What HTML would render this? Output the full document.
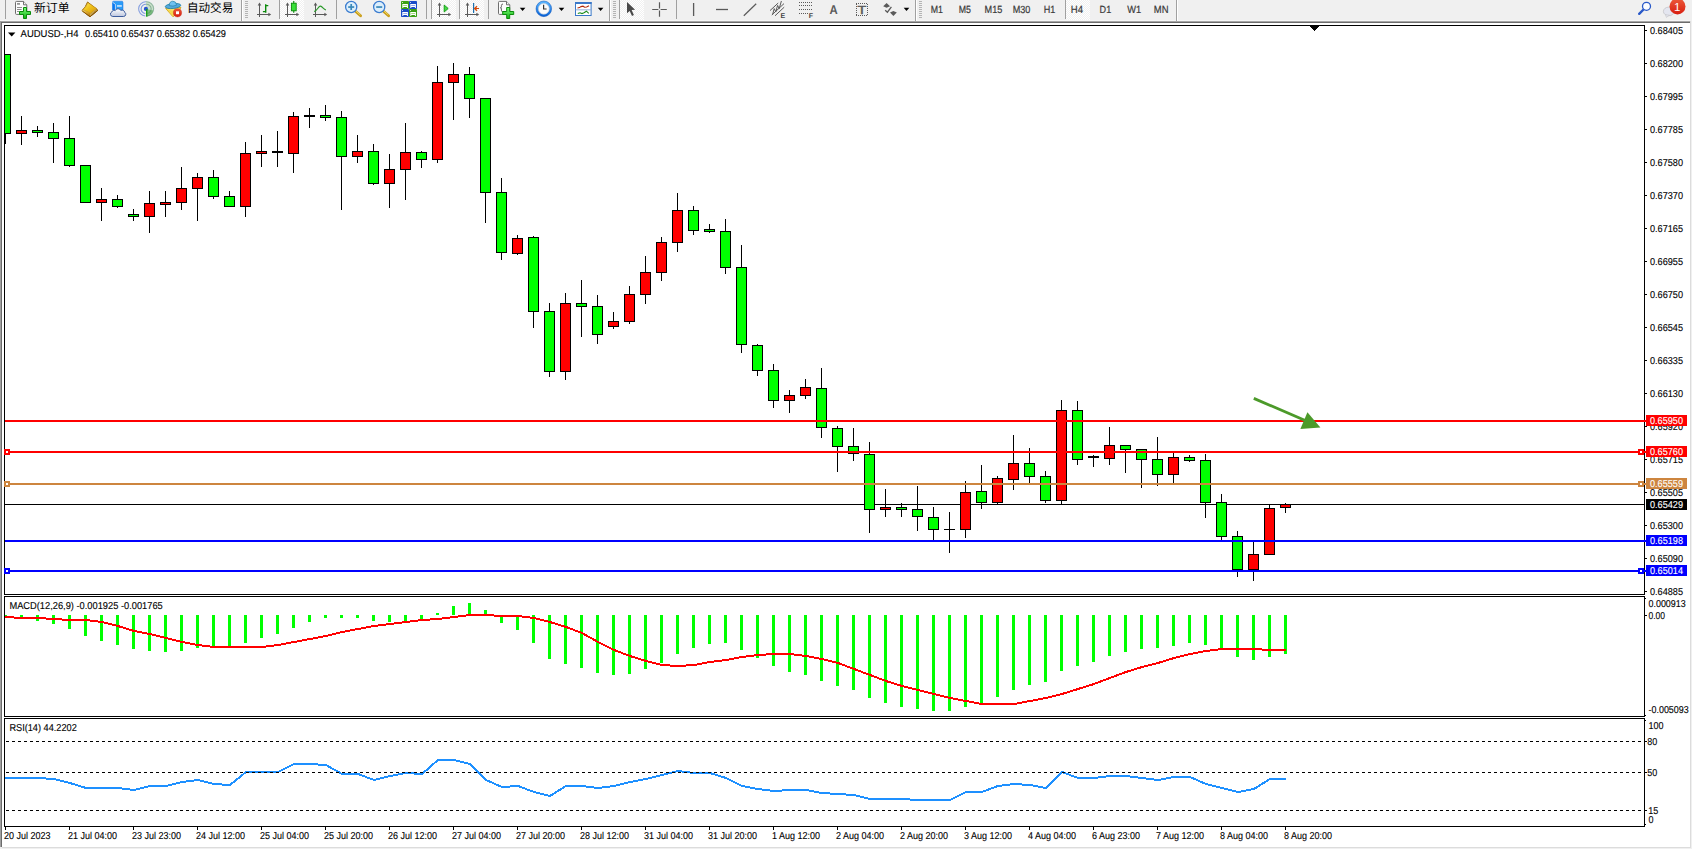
<!DOCTYPE html>
<html><head><meta charset="utf-8"><title>AUDUSD-,H4</title>
<style>html,body{margin:0;padding:0;background:#fff;overflow:hidden}svg{display:block}</style>
</head><body>
<svg width="1692" height="849" viewBox="0 0 1692 849" font-family='"Liberation Sans", sans-serif' shape-rendering="crispEdges" text-rendering="geometricPrecision">
<rect x="0" y="0" width="1692" height="849" fill="#ffffff"/>
<rect x="0" y="0" width="1692" height="21" fill="#f0f0f0"/>
<rect x="0" y="20" width="1690" height="1" fill="#f6f6f6"/>
<rect x="0" y="21" width="1690" height="1" fill="#a6a6a6"/>
<rect x="0" y="22" width="1690" height="1" fill="#6c6c6c"/>
<rect x="0" y="21" width="1" height="826" fill="#a0a0a0"/>
<rect x="1" y="22" width="1" height="825" fill="#6c6c6c"/>
<rect x="1690" y="0" width="2" height="849" fill="#f0f0f0"/>
<rect x="1690" y="21" width="1" height="827" fill="#dcdcdc"/>
<rect x="0" y="847" width="1692" height="2" fill="#f0f0f0"/>
<rect x="2" y="847" width="1689" height="1" fill="#dcdcdc"/>
<clipPath id="cm"><rect x="5" y="26" width="1639" height="568"/></clipPath>
<g clip-path="url(#cm)">
<rect x="5" y="504" width="1639" height="1" fill="#000"/>
<rect x="5" y="54" width="1" height="90" fill="#000"/>
<rect x="0" y="54" width="11" height="80" fill="#000"/>
<rect x="1" y="55" width="9" height="78" fill="#00ff00"/>
<rect x="21" y="116" width="1" height="29" fill="#000"/>
<rect x="16" y="130" width="11" height="4" fill="#000"/>
<rect x="17" y="131" width="9" height="2" fill="#ff0000"/>
<rect x="37" y="126" width="1" height="11" fill="#000"/>
<rect x="32" y="130" width="11" height="3" fill="#000"/>
<rect x="33" y="131" width="9" height="1" fill="#00ff00"/>
<rect x="53" y="123" width="1" height="40" fill="#000"/>
<rect x="48" y="132" width="11" height="7" fill="#000"/>
<rect x="49" y="133" width="9" height="5" fill="#00ff00"/>
<rect x="69" y="116" width="1" height="51" fill="#000"/>
<rect x="64" y="138" width="11" height="28" fill="#000"/>
<rect x="65" y="139" width="9" height="26" fill="#00ff00"/>
<rect x="85" y="165" width="1" height="38" fill="#000"/>
<rect x="80" y="165" width="11" height="38" fill="#000"/>
<rect x="81" y="166" width="9" height="36" fill="#00ff00"/>
<rect x="101" y="188" width="1" height="33" fill="#000"/>
<rect x="96" y="199" width="11" height="4" fill="#000"/>
<rect x="97" y="200" width="9" height="2" fill="#ff0000"/>
<rect x="117" y="195" width="1" height="13" fill="#000"/>
<rect x="112" y="199" width="11" height="8" fill="#000"/>
<rect x="113" y="200" width="9" height="6" fill="#00ff00"/>
<rect x="133" y="209" width="1" height="12" fill="#000"/>
<rect x="128" y="214" width="11" height="3" fill="#000"/>
<rect x="129" y="215" width="9" height="1" fill="#00ff00"/>
<rect x="149" y="191" width="1" height="42" fill="#000"/>
<rect x="144" y="203" width="11" height="14" fill="#000"/>
<rect x="145" y="204" width="9" height="12" fill="#ff0000"/>
<rect x="165" y="191" width="1" height="26" fill="#000"/>
<rect x="160" y="202" width="11" height="3" fill="#000"/>
<rect x="161" y="203" width="9" height="1" fill="#ff0000"/>
<rect x="181" y="167" width="1" height="43" fill="#000"/>
<rect x="176" y="188" width="11" height="15" fill="#000"/>
<rect x="177" y="189" width="9" height="13" fill="#ff0000"/>
<rect x="197" y="173" width="1" height="48" fill="#000"/>
<rect x="192" y="177" width="11" height="12" fill="#000"/>
<rect x="193" y="178" width="9" height="10" fill="#ff0000"/>
<rect x="213" y="170" width="1" height="29" fill="#000"/>
<rect x="208" y="177" width="11" height="20" fill="#000"/>
<rect x="209" y="178" width="9" height="18" fill="#00ff00"/>
<rect x="229" y="191" width="1" height="16" fill="#000"/>
<rect x="224" y="196" width="11" height="11" fill="#000"/>
<rect x="225" y="197" width="9" height="9" fill="#00ff00"/>
<rect x="245" y="142" width="1" height="75" fill="#000"/>
<rect x="240" y="153" width="11" height="54" fill="#000"/>
<rect x="241" y="154" width="9" height="52" fill="#ff0000"/>
<rect x="261" y="135" width="1" height="32" fill="#000"/>
<rect x="256" y="151" width="11" height="3" fill="#000"/>
<rect x="257" y="152" width="9" height="1" fill="#ff0000"/>
<rect x="277" y="131" width="1" height="36" fill="#000"/>
<rect x="272" y="151" width="11" height="2" fill="#000"/>
<rect x="293" y="112" width="1" height="61" fill="#000"/>
<rect x="288" y="116" width="11" height="38" fill="#000"/>
<rect x="289" y="117" width="9" height="36" fill="#ff0000"/>
<rect x="309" y="108" width="1" height="20" fill="#000"/>
<rect x="304" y="115" width="11" height="2" fill="#000"/>
<rect x="325" y="105" width="1" height="16" fill="#000"/>
<rect x="320" y="115" width="11" height="3" fill="#000"/>
<rect x="321" y="116" width="9" height="1" fill="#00ff00"/>
<rect x="341" y="111" width="1" height="99" fill="#000"/>
<rect x="336" y="117" width="11" height="40" fill="#000"/>
<rect x="337" y="118" width="9" height="38" fill="#00ff00"/>
<rect x="357" y="135" width="1" height="28" fill="#000"/>
<rect x="352" y="151" width="11" height="6" fill="#000"/>
<rect x="353" y="152" width="9" height="4" fill="#ff0000"/>
<rect x="373" y="144" width="1" height="41" fill="#000"/>
<rect x="368" y="151" width="11" height="33" fill="#000"/>
<rect x="369" y="152" width="9" height="31" fill="#00ff00"/>
<rect x="389" y="154" width="1" height="54" fill="#000"/>
<rect x="384" y="169" width="11" height="15" fill="#000"/>
<rect x="385" y="170" width="9" height="13" fill="#ff0000"/>
<rect x="405" y="123" width="1" height="77" fill="#000"/>
<rect x="400" y="152" width="11" height="18" fill="#000"/>
<rect x="401" y="153" width="9" height="16" fill="#ff0000"/>
<rect x="421" y="151" width="1" height="17" fill="#000"/>
<rect x="416" y="152" width="11" height="8" fill="#000"/>
<rect x="417" y="153" width="9" height="6" fill="#00ff00"/>
<rect x="437" y="66" width="1" height="97" fill="#000"/>
<rect x="432" y="82" width="11" height="78" fill="#000"/>
<rect x="433" y="83" width="9" height="76" fill="#ff0000"/>
<rect x="453" y="63" width="1" height="57" fill="#000"/>
<rect x="448" y="74" width="11" height="9" fill="#000"/>
<rect x="449" y="75" width="9" height="7" fill="#ff0000"/>
<rect x="469" y="67" width="1" height="51" fill="#000"/>
<rect x="464" y="74" width="11" height="25" fill="#000"/>
<rect x="465" y="75" width="9" height="23" fill="#00ff00"/>
<rect x="485" y="98" width="1" height="125" fill="#000"/>
<rect x="480" y="98" width="11" height="95" fill="#000"/>
<rect x="481" y="99" width="9" height="93" fill="#00ff00"/>
<rect x="501" y="178" width="1" height="82" fill="#000"/>
<rect x="496" y="192" width="11" height="61" fill="#000"/>
<rect x="497" y="193" width="9" height="59" fill="#00ff00"/>
<rect x="517" y="235" width="1" height="20" fill="#000"/>
<rect x="512" y="238" width="11" height="16" fill="#000"/>
<rect x="513" y="239" width="9" height="14" fill="#ff0000"/>
<rect x="533" y="236" width="1" height="92" fill="#000"/>
<rect x="528" y="237" width="11" height="75" fill="#000"/>
<rect x="529" y="238" width="9" height="73" fill="#00ff00"/>
<rect x="549" y="303" width="1" height="74" fill="#000"/>
<rect x="544" y="311" width="11" height="61" fill="#000"/>
<rect x="545" y="312" width="9" height="59" fill="#00ff00"/>
<rect x="565" y="293" width="1" height="87" fill="#000"/>
<rect x="560" y="303" width="11" height="69" fill="#000"/>
<rect x="561" y="304" width="9" height="67" fill="#ff0000"/>
<rect x="581" y="280" width="1" height="57" fill="#000"/>
<rect x="576" y="303" width="11" height="4" fill="#000"/>
<rect x="577" y="304" width="9" height="2" fill="#00ff00"/>
<rect x="597" y="295" width="1" height="49" fill="#000"/>
<rect x="592" y="306" width="11" height="29" fill="#000"/>
<rect x="593" y="307" width="9" height="27" fill="#00ff00"/>
<rect x="613" y="312" width="1" height="17" fill="#000"/>
<rect x="608" y="321" width="11" height="6" fill="#000"/>
<rect x="609" y="322" width="9" height="4" fill="#ff0000"/>
<rect x="629" y="286" width="1" height="38" fill="#000"/>
<rect x="624" y="294" width="11" height="28" fill="#000"/>
<rect x="625" y="295" width="9" height="26" fill="#ff0000"/>
<rect x="645" y="256" width="1" height="48" fill="#000"/>
<rect x="640" y="272" width="11" height="23" fill="#000"/>
<rect x="641" y="273" width="9" height="21" fill="#ff0000"/>
<rect x="661" y="237" width="1" height="44" fill="#000"/>
<rect x="656" y="242" width="11" height="31" fill="#000"/>
<rect x="657" y="243" width="9" height="29" fill="#ff0000"/>
<rect x="677" y="193" width="1" height="59" fill="#000"/>
<rect x="672" y="210" width="11" height="33" fill="#000"/>
<rect x="673" y="211" width="9" height="31" fill="#ff0000"/>
<rect x="693" y="206" width="1" height="29" fill="#000"/>
<rect x="688" y="210" width="11" height="21" fill="#000"/>
<rect x="689" y="211" width="9" height="19" fill="#00ff00"/>
<rect x="709" y="224" width="1" height="9" fill="#000"/>
<rect x="704" y="229" width="11" height="3" fill="#000"/>
<rect x="705" y="230" width="9" height="1" fill="#00ff00"/>
<rect x="725" y="219" width="1" height="55" fill="#000"/>
<rect x="720" y="231" width="11" height="37" fill="#000"/>
<rect x="721" y="232" width="9" height="35" fill="#00ff00"/>
<rect x="741" y="245" width="1" height="108" fill="#000"/>
<rect x="736" y="267" width="11" height="78" fill="#000"/>
<rect x="737" y="268" width="9" height="76" fill="#00ff00"/>
<rect x="757" y="344" width="1" height="32" fill="#000"/>
<rect x="752" y="345" width="11" height="26" fill="#000"/>
<rect x="753" y="346" width="9" height="24" fill="#00ff00"/>
<rect x="773" y="364" width="1" height="44" fill="#000"/>
<rect x="768" y="370" width="11" height="31" fill="#000"/>
<rect x="769" y="371" width="9" height="29" fill="#00ff00"/>
<rect x="789" y="390" width="1" height="23" fill="#000"/>
<rect x="784" y="395" width="11" height="6" fill="#000"/>
<rect x="785" y="396" width="9" height="4" fill="#ff0000"/>
<rect x="805" y="379" width="1" height="20" fill="#000"/>
<rect x="800" y="387" width="11" height="9" fill="#000"/>
<rect x="801" y="388" width="9" height="7" fill="#ff0000"/>
<rect x="821" y="368" width="1" height="70" fill="#000"/>
<rect x="816" y="388" width="11" height="40" fill="#000"/>
<rect x="817" y="389" width="9" height="38" fill="#00ff00"/>
<rect x="837" y="426" width="1" height="46" fill="#000"/>
<rect x="832" y="428" width="11" height="19" fill="#000"/>
<rect x="833" y="429" width="9" height="17" fill="#00ff00"/>
<rect x="853" y="428" width="1" height="33" fill="#000"/>
<rect x="848" y="446" width="11" height="8" fill="#000"/>
<rect x="849" y="447" width="9" height="6" fill="#00ff00"/>
<rect x="869" y="442" width="1" height="91" fill="#000"/>
<rect x="864" y="454" width="11" height="56" fill="#000"/>
<rect x="865" y="455" width="9" height="54" fill="#00ff00"/>
<rect x="885" y="489" width="1" height="28" fill="#000"/>
<rect x="880" y="507" width="11" height="3" fill="#000"/>
<rect x="881" y="508" width="9" height="1" fill="#ff0000"/>
<rect x="901" y="503" width="1" height="14" fill="#000"/>
<rect x="896" y="507" width="11" height="3" fill="#000"/>
<rect x="897" y="508" width="9" height="1" fill="#00ff00"/>
<rect x="917" y="486" width="1" height="45" fill="#000"/>
<rect x="912" y="509" width="11" height="8" fill="#000"/>
<rect x="913" y="510" width="9" height="6" fill="#00ff00"/>
<rect x="933" y="507" width="1" height="33" fill="#000"/>
<rect x="928" y="517" width="11" height="13" fill="#000"/>
<rect x="929" y="518" width="9" height="11" fill="#00ff00"/>
<rect x="949" y="512" width="1" height="41" fill="#000"/>
<rect x="944" y="529" width="11" height="1" fill="#000"/>
<rect x="965" y="481" width="1" height="57" fill="#000"/>
<rect x="960" y="492" width="11" height="38" fill="#000"/>
<rect x="961" y="493" width="9" height="36" fill="#ff0000"/>
<rect x="981" y="465" width="1" height="44" fill="#000"/>
<rect x="976" y="491" width="11" height="12" fill="#000"/>
<rect x="977" y="492" width="9" height="10" fill="#00ff00"/>
<rect x="997" y="476" width="1" height="28" fill="#000"/>
<rect x="992" y="478" width="11" height="25" fill="#000"/>
<rect x="993" y="479" width="9" height="23" fill="#ff0000"/>
<rect x="1013" y="435" width="1" height="55" fill="#000"/>
<rect x="1008" y="463" width="11" height="17" fill="#000"/>
<rect x="1009" y="464" width="9" height="15" fill="#ff0000"/>
<rect x="1029" y="448" width="1" height="35" fill="#000"/>
<rect x="1024" y="463" width="11" height="14" fill="#000"/>
<rect x="1025" y="464" width="9" height="12" fill="#00ff00"/>
<rect x="1045" y="471" width="1" height="32" fill="#000"/>
<rect x="1040" y="476" width="11" height="25" fill="#000"/>
<rect x="1041" y="477" width="9" height="23" fill="#00ff00"/>
<rect x="1061" y="400" width="1" height="104" fill="#000"/>
<rect x="1056" y="410" width="11" height="91" fill="#000"/>
<rect x="1057" y="411" width="9" height="89" fill="#ff0000"/>
<rect x="1077" y="401" width="1" height="64" fill="#000"/>
<rect x="1072" y="410" width="11" height="50" fill="#000"/>
<rect x="1073" y="411" width="9" height="48" fill="#00ff00"/>
<rect x="1093" y="455" width="1" height="12" fill="#000"/>
<rect x="1088" y="456" width="11" height="2" fill="#000"/>
<rect x="1109" y="427" width="1" height="38" fill="#000"/>
<rect x="1104" y="445" width="11" height="14" fill="#000"/>
<rect x="1105" y="446" width="9" height="12" fill="#ff0000"/>
<rect x="1125" y="445" width="1" height="28" fill="#000"/>
<rect x="1120" y="445" width="11" height="5" fill="#000"/>
<rect x="1121" y="446" width="9" height="3" fill="#00ff00"/>
<rect x="1141" y="449" width="1" height="39" fill="#000"/>
<rect x="1136" y="449" width="11" height="11" fill="#000"/>
<rect x="1137" y="450" width="9" height="9" fill="#00ff00"/>
<rect x="1157" y="437" width="1" height="49" fill="#000"/>
<rect x="1152" y="459" width="11" height="16" fill="#000"/>
<rect x="1153" y="460" width="9" height="14" fill="#00ff00"/>
<rect x="1173" y="453" width="1" height="30" fill="#000"/>
<rect x="1168" y="457" width="11" height="18" fill="#000"/>
<rect x="1169" y="458" width="9" height="16" fill="#ff0000"/>
<rect x="1189" y="455" width="1" height="7" fill="#000"/>
<rect x="1184" y="457" width="11" height="4" fill="#000"/>
<rect x="1185" y="458" width="9" height="2" fill="#00ff00"/>
<rect x="1205" y="454" width="1" height="64" fill="#000"/>
<rect x="1200" y="460" width="11" height="43" fill="#000"/>
<rect x="1201" y="461" width="9" height="41" fill="#00ff00"/>
<rect x="1221" y="494" width="1" height="46" fill="#000"/>
<rect x="1216" y="502" width="11" height="35" fill="#000"/>
<rect x="1217" y="503" width="9" height="33" fill="#00ff00"/>
<rect x="1237" y="531" width="1" height="46" fill="#000"/>
<rect x="1232" y="536" width="11" height="34" fill="#000"/>
<rect x="1233" y="537" width="9" height="32" fill="#00ff00"/>
<rect x="1253" y="542" width="1" height="39" fill="#000"/>
<rect x="1248" y="554" width="11" height="16" fill="#000"/>
<rect x="1249" y="555" width="9" height="14" fill="#ff0000"/>
<rect x="1269" y="504" width="1" height="51" fill="#000"/>
<rect x="1264" y="508" width="11" height="47" fill="#000"/>
<rect x="1265" y="509" width="9" height="45" fill="#ff0000"/>
<rect x="1285" y="503" width="1" height="10" fill="#000"/>
<rect x="1280" y="504" width="11" height="4" fill="#000"/>
<rect x="1281" y="505" width="9" height="2" fill="#ff0000"/>
<rect x="5" y="420" width="1639" height="2" fill="#ff0000"/>
<rect x="5" y="451" width="1639" height="2" fill="#ff0000"/>
<rect x="5" y="483" width="1639" height="2" fill="#cd853f"/>
<rect x="5" y="540" width="1639" height="2" fill="#0000ff"/>
<rect x="5" y="570" width="1639" height="2" fill="#0000ff"/>
</g>
<g shape-rendering="geometricPrecision">
<line x1="1253.8" y1="398.4" x2="1307" y2="421.2" stroke="#4c9a2a" stroke-width="2.8"/>
<polygon points="1307.4,412.3 1300.4,428.9 1320.4,427.4" fill="#4c9a2a"/>
</g>
<rect x="4" y="25" width="1641" height="1" fill="#000"/>
<rect x="4" y="594" width="1641" height="1" fill="#000"/>
<rect x="4" y="25" width="1" height="570" fill="#000"/>
<rect x="1644" y="25" width="1" height="570" fill="#000"/>
<rect x="1644" y="420" width="2" height="2" fill="#ff0000"/>
<rect x="1644" y="451" width="2" height="2" fill="#ff0000"/>
<rect x="4" y="449" width="6" height="6" fill="#ff0000"/>
<rect x="6" y="451" width="2" height="2" fill="#fff"/>
<rect x="1638" y="449" width="6" height="6" fill="#ff0000"/>
<rect x="1640" y="451" width="2" height="2" fill="#fff"/>
<rect x="1644" y="483" width="2" height="2" fill="#cd853f"/>
<rect x="4" y="481" width="6" height="6" fill="#cd853f"/>
<rect x="6" y="483" width="2" height="2" fill="#fff"/>
<rect x="1638" y="481" width="6" height="6" fill="#cd853f"/>
<rect x="1640" y="483" width="2" height="2" fill="#fff"/>
<rect x="1644" y="540" width="2" height="2" fill="#0000ff"/>
<rect x="1644" y="570" width="2" height="2" fill="#0000ff"/>
<rect x="4" y="568" width="6" height="6" fill="#0000ff"/>
<rect x="6" y="570" width="2" height="2" fill="#fff"/>
<rect x="1638" y="568" width="6" height="6" fill="#0000ff"/>
<rect x="1640" y="570" width="2" height="2" fill="#fff"/>
<rect x="1310" y="26" width="9" height="1" fill="#000"/>
<rect x="1311" y="27" width="7" height="1" fill="#000"/>
<rect x="1312" y="28" width="5" height="1" fill="#000"/>
<rect x="1313" y="29" width="3" height="1" fill="#000"/>
<rect x="1314" y="30" width="1" height="1" fill="#000"/>
<polygon points="8,32.5 15.4,32.5 11.7,36.4" fill="#000" shape-rendering="geometricPrecision"/>
<text x="20.6" y="36.8" font-size="10.0" fill="#000" stroke="#000" stroke-width="0.12" text-anchor="start" textLength="57.80" lengthAdjust="spacingAndGlyphs" xml:space="preserve">AUDUSD-,H4</text>
<text x="85" y="36.8" font-size="10.0" fill="#000" stroke="#000" stroke-width="0.12" text-anchor="start" textLength="141.00" lengthAdjust="spacingAndGlyphs" xml:space="preserve">0.65410 0.65437 0.65382 0.65429</text>
<rect x="1645" y="30" width="2" height="1" fill="#000"/>
<text x="1650" y="34" font-size="10.0" fill="#000" stroke="#000" stroke-width="0.12" text-anchor="start" textLength="33.00" lengthAdjust="spacingAndGlyphs" xml:space="preserve">0.68405</text>
<rect x="1645" y="63" width="2" height="1" fill="#000"/>
<text x="1650" y="67" font-size="10.0" fill="#000" stroke="#000" stroke-width="0.12" text-anchor="start" textLength="33.00" lengthAdjust="spacingAndGlyphs" xml:space="preserve">0.68200</text>
<rect x="1645" y="96" width="2" height="1" fill="#000"/>
<text x="1650" y="100" font-size="10.0" fill="#000" stroke="#000" stroke-width="0.12" text-anchor="start" textLength="33.00" lengthAdjust="spacingAndGlyphs" xml:space="preserve">0.67995</text>
<rect x="1645" y="129" width="2" height="1" fill="#000"/>
<text x="1650" y="133" font-size="10.0" fill="#000" stroke="#000" stroke-width="0.12" text-anchor="start" textLength="33.00" lengthAdjust="spacingAndGlyphs" xml:space="preserve">0.67785</text>
<rect x="1645" y="162" width="2" height="1" fill="#000"/>
<text x="1650" y="166" font-size="10.0" fill="#000" stroke="#000" stroke-width="0.12" text-anchor="start" textLength="33.00" lengthAdjust="spacingAndGlyphs" xml:space="preserve">0.67580</text>
<rect x="1645" y="195" width="2" height="1" fill="#000"/>
<text x="1650" y="199" font-size="10.0" fill="#000" stroke="#000" stroke-width="0.12" text-anchor="start" textLength="33.00" lengthAdjust="spacingAndGlyphs" xml:space="preserve">0.67370</text>
<rect x="1645" y="228" width="2" height="1" fill="#000"/>
<text x="1650" y="232" font-size="10.0" fill="#000" stroke="#000" stroke-width="0.12" text-anchor="start" textLength="33.00" lengthAdjust="spacingAndGlyphs" xml:space="preserve">0.67165</text>
<rect x="1645" y="261" width="2" height="1" fill="#000"/>
<text x="1650" y="265" font-size="10.0" fill="#000" stroke="#000" stroke-width="0.12" text-anchor="start" textLength="33.00" lengthAdjust="spacingAndGlyphs" xml:space="preserve">0.66955</text>
<rect x="1645" y="294" width="2" height="1" fill="#000"/>
<text x="1650" y="298" font-size="10.0" fill="#000" stroke="#000" stroke-width="0.12" text-anchor="start" textLength="33.00" lengthAdjust="spacingAndGlyphs" xml:space="preserve">0.66750</text>
<rect x="1645" y="327" width="2" height="1" fill="#000"/>
<text x="1650" y="331" font-size="10.0" fill="#000" stroke="#000" stroke-width="0.12" text-anchor="start" textLength="33.00" lengthAdjust="spacingAndGlyphs" xml:space="preserve">0.66545</text>
<rect x="1645" y="360" width="2" height="1" fill="#000"/>
<text x="1650" y="364" font-size="10.0" fill="#000" stroke="#000" stroke-width="0.12" text-anchor="start" textLength="33.00" lengthAdjust="spacingAndGlyphs" xml:space="preserve">0.66335</text>
<rect x="1645" y="393" width="2" height="1" fill="#000"/>
<text x="1650" y="397" font-size="10.0" fill="#000" stroke="#000" stroke-width="0.12" text-anchor="start" textLength="33.00" lengthAdjust="spacingAndGlyphs" xml:space="preserve">0.66130</text>
<rect x="1645" y="426" width="2" height="1" fill="#000"/>
<text x="1650" y="430" font-size="10.0" fill="#000" stroke="#000" stroke-width="0.12" text-anchor="start" textLength="33.00" lengthAdjust="spacingAndGlyphs" xml:space="preserve">0.65920</text>
<rect x="1645" y="459" width="2" height="1" fill="#000"/>
<text x="1650" y="463" font-size="10.0" fill="#000" stroke="#000" stroke-width="0.12" text-anchor="start" textLength="33.00" lengthAdjust="spacingAndGlyphs" xml:space="preserve">0.65715</text>
<rect x="1645" y="492" width="2" height="1" fill="#000"/>
<text x="1650" y="496" font-size="10.0" fill="#000" stroke="#000" stroke-width="0.12" text-anchor="start" textLength="33.00" lengthAdjust="spacingAndGlyphs" xml:space="preserve">0.65505</text>
<rect x="1645" y="525" width="2" height="1" fill="#000"/>
<text x="1650" y="529" font-size="10.0" fill="#000" stroke="#000" stroke-width="0.12" text-anchor="start" textLength="33.00" lengthAdjust="spacingAndGlyphs" xml:space="preserve">0.65300</text>
<rect x="1645" y="558" width="2" height="1" fill="#000"/>
<text x="1650" y="562" font-size="10.0" fill="#000" stroke="#000" stroke-width="0.12" text-anchor="start" textLength="33.00" lengthAdjust="spacingAndGlyphs" xml:space="preserve">0.65090</text>
<rect x="1645" y="591" width="2" height="1" fill="#000"/>
<text x="1650" y="595" font-size="10.0" fill="#000" stroke="#000" stroke-width="0.12" text-anchor="start" textLength="33.00" lengthAdjust="spacingAndGlyphs" xml:space="preserve">0.64885</text>
<rect x="1646" y="415" width="41" height="11" fill="#ff0000"/>
<text x="1650" y="424" font-size="10.0" fill="#fff" stroke="#fff" stroke-width="0.12" text-anchor="start" textLength="33.00" lengthAdjust="spacingAndGlyphs" xml:space="preserve">0.65950</text>
<rect x="1646" y="446" width="41" height="11" fill="#ff0000"/>
<text x="1650" y="455" font-size="10.0" fill="#fff" stroke="#fff" stroke-width="0.12" text-anchor="start" textLength="33.00" lengthAdjust="spacingAndGlyphs" xml:space="preserve">0.65760</text>
<rect x="1646" y="478" width="41" height="11" fill="#cd853f"/>
<text x="1650" y="487" font-size="10.0" fill="#fff" stroke="#fff" stroke-width="0.12" text-anchor="start" textLength="33.00" lengthAdjust="spacingAndGlyphs" xml:space="preserve">0.65559</text>
<rect x="1646" y="499" width="41" height="11" fill="#000000"/>
<text x="1650" y="508" font-size="10.0" fill="#fff" stroke="#fff" stroke-width="0.12" text-anchor="start" textLength="33.00" lengthAdjust="spacingAndGlyphs" xml:space="preserve">0.65429</text>
<rect x="1646" y="535" width="41" height="11" fill="#0000ff"/>
<text x="1650" y="544" font-size="10.0" fill="#fff" stroke="#fff" stroke-width="0.12" text-anchor="start" textLength="33.00" lengthAdjust="spacingAndGlyphs" xml:space="preserve">0.65198</text>
<rect x="1646" y="565" width="41" height="11" fill="#0000ff"/>
<text x="1650" y="574" font-size="10.0" fill="#fff" stroke="#fff" stroke-width="0.12" text-anchor="start" textLength="33.00" lengthAdjust="spacingAndGlyphs" xml:space="preserve">0.65014</text>
<clipPath id="c2"><rect x="5" y="597" width="1639" height="119"/></clipPath>
<g clip-path="url(#c2)">
<rect x="4" y="615" width="3" height="2" fill="#00ff00"/>
<rect x="20" y="615" width="3" height="3" fill="#00ff00"/>
<rect x="36" y="615" width="3" height="6" fill="#00ff00"/>
<rect x="52" y="615" width="3" height="9" fill="#00ff00"/>
<rect x="68" y="615" width="3" height="14" fill="#00ff00"/>
<rect x="84" y="615" width="3" height="21" fill="#00ff00"/>
<rect x="100" y="615" width="3" height="26" fill="#00ff00"/>
<rect x="116" y="615" width="3" height="30" fill="#00ff00"/>
<rect x="132" y="615" width="3" height="34" fill="#00ff00"/>
<rect x="148" y="615" width="3" height="36" fill="#00ff00"/>
<rect x="164" y="615" width="3" height="37" fill="#00ff00"/>
<rect x="180" y="615" width="3" height="36" fill="#00ff00"/>
<rect x="196" y="615" width="3" height="33" fill="#00ff00"/>
<rect x="212" y="615" width="3" height="32" fill="#00ff00"/>
<rect x="228" y="615" width="3" height="31" fill="#00ff00"/>
<rect x="244" y="615" width="3" height="28" fill="#00ff00"/>
<rect x="260" y="615" width="3" height="23" fill="#00ff00"/>
<rect x="276" y="615" width="3" height="19" fill="#00ff00"/>
<rect x="292" y="615" width="3" height="13" fill="#00ff00"/>
<rect x="308" y="615" width="3" height="7" fill="#00ff00"/>
<rect x="324" y="615" width="3" height="3" fill="#00ff00"/>
<rect x="340" y="615" width="3" height="3" fill="#00ff00"/>
<rect x="356" y="615" width="3" height="3" fill="#00ff00"/>
<rect x="372" y="615" width="3" height="6" fill="#00ff00"/>
<rect x="388" y="615" width="3" height="7" fill="#00ff00"/>
<rect x="404" y="615" width="3" height="6" fill="#00ff00"/>
<rect x="420" y="615" width="3" height="4" fill="#00ff00"/>
<rect x="436" y="613" width="3" height="2" fill="#00ff00"/>
<rect x="452" y="606" width="3" height="9" fill="#00ff00"/>
<rect x="468" y="603" width="3" height="12" fill="#00ff00"/>
<rect x="484" y="610" width="3" height="5" fill="#00ff00"/>
<rect x="500" y="615" width="3" height="8" fill="#00ff00"/>
<rect x="516" y="615" width="3" height="15" fill="#00ff00"/>
<rect x="532" y="615" width="3" height="28" fill="#00ff00"/>
<rect x="548" y="615" width="3" height="44" fill="#00ff00"/>
<rect x="564" y="615" width="3" height="49" fill="#00ff00"/>
<rect x="580" y="615" width="3" height="53" fill="#00ff00"/>
<rect x="596" y="615" width="3" height="58" fill="#00ff00"/>
<rect x="612" y="615" width="3" height="60" fill="#00ff00"/>
<rect x="628" y="615" width="3" height="59" fill="#00ff00"/>
<rect x="644" y="615" width="3" height="54" fill="#00ff00"/>
<rect x="660" y="615" width="3" height="48" fill="#00ff00"/>
<rect x="676" y="615" width="3" height="39" fill="#00ff00"/>
<rect x="692" y="615" width="3" height="33" fill="#00ff00"/>
<rect x="708" y="615" width="3" height="29" fill="#00ff00"/>
<rect x="724" y="615" width="3" height="28" fill="#00ff00"/>
<rect x="740" y="615" width="3" height="35" fill="#00ff00"/>
<rect x="756" y="615" width="3" height="43" fill="#00ff00"/>
<rect x="772" y="615" width="3" height="51" fill="#00ff00"/>
<rect x="788" y="615" width="3" height="57" fill="#00ff00"/>
<rect x="804" y="615" width="3" height="60" fill="#00ff00"/>
<rect x="820" y="615" width="3" height="66" fill="#00ff00"/>
<rect x="836" y="615" width="3" height="71" fill="#00ff00"/>
<rect x="852" y="615" width="3" height="75" fill="#00ff00"/>
<rect x="868" y="615" width="3" height="83" fill="#00ff00"/>
<rect x="884" y="615" width="3" height="88" fill="#00ff00"/>
<rect x="900" y="615" width="3" height="92" fill="#00ff00"/>
<rect x="916" y="615" width="3" height="94" fill="#00ff00"/>
<rect x="932" y="615" width="3" height="96" fill="#00ff00"/>
<rect x="948" y="615" width="3" height="96" fill="#00ff00"/>
<rect x="964" y="615" width="3" height="92" fill="#00ff00"/>
<rect x="980" y="615" width="3" height="88" fill="#00ff00"/>
<rect x="996" y="615" width="3" height="82" fill="#00ff00"/>
<rect x="1012" y="615" width="3" height="75" fill="#00ff00"/>
<rect x="1028" y="615" width="3" height="70" fill="#00ff00"/>
<rect x="1044" y="615" width="3" height="67" fill="#00ff00"/>
<rect x="1060" y="615" width="3" height="56" fill="#00ff00"/>
<rect x="1076" y="615" width="3" height="51" fill="#00ff00"/>
<rect x="1092" y="615" width="3" height="47" fill="#00ff00"/>
<rect x="1108" y="615" width="3" height="41" fill="#00ff00"/>
<rect x="1124" y="615" width="3" height="37" fill="#00ff00"/>
<rect x="1140" y="615" width="3" height="34" fill="#00ff00"/>
<rect x="1156" y="615" width="3" height="33" fill="#00ff00"/>
<rect x="1172" y="615" width="3" height="31" fill="#00ff00"/>
<rect x="1188" y="615" width="3" height="28" fill="#00ff00"/>
<rect x="1204" y="615" width="3" height="30" fill="#00ff00"/>
<rect x="1220" y="615" width="3" height="35" fill="#00ff00"/>
<rect x="1236" y="615" width="3" height="42" fill="#00ff00"/>
<rect x="1252" y="615" width="3" height="45" fill="#00ff00"/>
<rect x="1268" y="615" width="3" height="42" fill="#00ff00"/>
<rect x="1284" y="615" width="3" height="39" fill="#00ff00"/>
<polyline points="4,617 6,617 22,618 38,618 54,619 70,620 86,620 102,622 118,626 134,631 150,634 166,638 182,642 198,645 214,647 230,647 246,647 262,647 278,645 294,642 310,639 326,636 342,632 358,629 374,626 390,624 406,622 422,620 438,619 454,617 470,615 486,615 502,616 518,616 534,618 550,622 566,627 582,633 598,642 614,650 630,656 646,661 662,665 678,666 694,665 710,662 726,660 742,657 758,655 774,654 790,654 806,656 822,659 838,663 854,669 870,675 886,681 902,686 918,690 934,694 950,698 966,701 982,704 998,704 1014,704 1030,701 1046,698 1062,694 1078,689 1094,684 1110,678 1126,672 1142,667 1158,663 1174,658 1190,654 1206,651 1222,649 1238,649 1254,649 1270,650 1286,650" fill="none" stroke="#ff0000" stroke-width="2" stroke-linejoin="round"/>
</g>
<rect x="4" y="596" width="1641" height="1" fill="#000"/>
<rect x="4" y="716" width="1641" height="1" fill="#000"/>
<rect x="4" y="596" width="1" height="121" fill="#000"/>
<rect x="1644" y="596" width="1" height="121" fill="#000"/>
<text x="9.4" y="609" font-size="10.0" fill="#000" stroke="#000" stroke-width="0.12" text-anchor="start" textLength="153.40" lengthAdjust="spacingAndGlyphs" xml:space="preserve">MACD(12,26,9) -0.001925 -0.001765</text>
<rect x="1645" y="598" width="1" height="1" fill="#000"/>
<rect x="1645" y="615" width="2" height="1" fill="#000"/>
<rect x="1645" y="715" width="1" height="1" fill="#000"/>
<text x="1648.5" y="607" font-size="10.0" fill="#000" stroke="#000" stroke-width="0.12" text-anchor="start" textLength="37.20" lengthAdjust="spacingAndGlyphs" xml:space="preserve">0.000913</text>
<text x="1648.5" y="619" font-size="10.0" fill="#000" stroke="#000" stroke-width="0.12" text-anchor="start" textLength="16.50" lengthAdjust="spacingAndGlyphs" xml:space="preserve">0.00</text>
<text x="1648.5" y="713" font-size="10.0" fill="#000" stroke="#000" stroke-width="0.12" text-anchor="start" textLength="40.20" lengthAdjust="spacingAndGlyphs" xml:space="preserve">-0.005093</text>
<clipPath id="c3"><rect x="5" y="719" width="1639" height="107"/></clipPath>
<g clip-path="url(#c3)">
<polyline points="4,778 6,778 22,778 38,778 54,779 70,783 86,788 102,788 118,788 134,790 150,786 166,786 182,782 198,780 214,784 230,785 246,772 262,772 278,772 294,764 310,764 326,765 342,774 358,774 374,780 390,776 406,773 422,774 438,760 454,760 470,764 486,780 502,787 518,786 534,792 550,796 566,786 582,786 598,788 614,786 630,782 646,779 662,775 678,771 694,773 710,773 726,778 742,786 758,789 774,791 790,790 806,790 822,793 838,794 854,795 870,799 886,799 902,799 918,800 934,800 950,800 966,792 982,792 998,786 1014,784 1030,785 1046,788 1062,772 1078,778 1094,778 1110,776 1126,776 1142,778 1158,780 1174,777 1190,777 1206,784 1222,788 1238,792 1254,789 1270,779 1286,779" fill="none" stroke="#1e90ff" stroke-width="2" stroke-linejoin="round"/>
<line x1="6" y1="741.5" x2="1642" y2="741.5" stroke="#000" stroke-width="1" stroke-dasharray="3 3"/>
<line x1="6" y1="772.5" x2="1642" y2="772.5" stroke="#000" stroke-width="1" stroke-dasharray="3 3"/>
<line x1="6" y1="810.5" x2="1642" y2="810.5" stroke="#000" stroke-width="1" stroke-dasharray="3 3"/>
</g>
<rect x="4" y="718" width="1641" height="1" fill="#000"/>
<rect x="4" y="826" width="1641" height="1" fill="#000"/>
<rect x="4" y="718" width="1" height="109" fill="#000"/>
<rect x="1644" y="718" width="1" height="109" fill="#000"/>
<text x="9.4" y="731" font-size="10.0" fill="#000" stroke="#000" stroke-width="0.12" text-anchor="start" textLength="67.40" lengthAdjust="spacingAndGlyphs" xml:space="preserve">RSI(14) 44.2202</text>
<text x="1648.6" y="729.1" font-size="10.0" fill="#000" stroke="#000" stroke-width="0.12" text-anchor="start" textLength="15.01" lengthAdjust="spacingAndGlyphs" xml:space="preserve">100</text>
<text x="1647.2" y="745.0" font-size="10.0" fill="#000" stroke="#000" stroke-width="0.12" text-anchor="start" textLength="10.01" lengthAdjust="spacingAndGlyphs" xml:space="preserve">80</text>
<text x="1647.2" y="776.1999999999999" font-size="10.0" fill="#000" stroke="#000" stroke-width="0.12" text-anchor="start" textLength="10.01" lengthAdjust="spacingAndGlyphs" xml:space="preserve">50</text>
<text x="1648.2" y="814.4" font-size="10.0" fill="#000" stroke="#000" stroke-width="0.12" text-anchor="start" textLength="10.01" lengthAdjust="spacingAndGlyphs" xml:space="preserve">15</text>
<text x="1648.6" y="823.1" font-size="10.0" fill="#000" stroke="#000" stroke-width="0.12" text-anchor="start" textLength="5.00" lengthAdjust="spacingAndGlyphs" xml:space="preserve">0</text>
<rect x="1645" y="720" width="1" height="1" fill="#000"/>
<rect x="1645" y="741" width="2" height="1" fill="#000"/>
<rect x="1645" y="772" width="2" height="1" fill="#000"/>
<rect x="1645" y="810" width="2" height="1" fill="#000"/>
<rect x="1645" y="824" width="1" height="1" fill="#000"/>
<rect x="5" y="827" width="1" height="3" fill="#000"/>
<text x="4" y="839" font-size="10.0" fill="#000" stroke="#000" stroke-width="0.12" text-anchor="start" textLength="46.53" lengthAdjust="spacingAndGlyphs" xml:space="preserve">20 Jul 2023</text>
<rect x="69" y="827" width="1" height="3" fill="#000"/>
<text x="68" y="839" font-size="10.0" fill="#000" stroke="#000" stroke-width="0.12" text-anchor="start" textLength="49.03" lengthAdjust="spacingAndGlyphs" xml:space="preserve">21 Jul 04:00</text>
<rect x="133" y="827" width="1" height="3" fill="#000"/>
<text x="132" y="839" font-size="10.0" fill="#000" stroke="#000" stroke-width="0.12" text-anchor="start" textLength="49.03" lengthAdjust="spacingAndGlyphs" xml:space="preserve">23 Jul 23:00</text>
<rect x="197" y="827" width="1" height="3" fill="#000"/>
<text x="196" y="839" font-size="10.0" fill="#000" stroke="#000" stroke-width="0.12" text-anchor="start" textLength="49.03" lengthAdjust="spacingAndGlyphs" xml:space="preserve">24 Jul 12:00</text>
<rect x="261" y="827" width="1" height="3" fill="#000"/>
<text x="260" y="839" font-size="10.0" fill="#000" stroke="#000" stroke-width="0.12" text-anchor="start" textLength="49.03" lengthAdjust="spacingAndGlyphs" xml:space="preserve">25 Jul 04:00</text>
<rect x="325" y="827" width="1" height="3" fill="#000"/>
<text x="324" y="839" font-size="10.0" fill="#000" stroke="#000" stroke-width="0.12" text-anchor="start" textLength="49.03" lengthAdjust="spacingAndGlyphs" xml:space="preserve">25 Jul 20:00</text>
<rect x="389" y="827" width="1" height="3" fill="#000"/>
<text x="388" y="839" font-size="10.0" fill="#000" stroke="#000" stroke-width="0.12" text-anchor="start" textLength="49.03" lengthAdjust="spacingAndGlyphs" xml:space="preserve">26 Jul 12:00</text>
<rect x="453" y="827" width="1" height="3" fill="#000"/>
<text x="452" y="839" font-size="10.0" fill="#000" stroke="#000" stroke-width="0.12" text-anchor="start" textLength="49.03" lengthAdjust="spacingAndGlyphs" xml:space="preserve">27 Jul 04:00</text>
<rect x="517" y="827" width="1" height="3" fill="#000"/>
<text x="516" y="839" font-size="10.0" fill="#000" stroke="#000" stroke-width="0.12" text-anchor="start" textLength="49.03" lengthAdjust="spacingAndGlyphs" xml:space="preserve">27 Jul 20:00</text>
<rect x="581" y="827" width="1" height="3" fill="#000"/>
<text x="580" y="839" font-size="10.0" fill="#000" stroke="#000" stroke-width="0.12" text-anchor="start" textLength="49.03" lengthAdjust="spacingAndGlyphs" xml:space="preserve">28 Jul 12:00</text>
<rect x="645" y="827" width="1" height="3" fill="#000"/>
<text x="644" y="839" font-size="10.0" fill="#000" stroke="#000" stroke-width="0.12" text-anchor="start" textLength="49.03" lengthAdjust="spacingAndGlyphs" xml:space="preserve">31 Jul 04:00</text>
<rect x="709" y="827" width="1" height="3" fill="#000"/>
<text x="708" y="839" font-size="10.0" fill="#000" stroke="#000" stroke-width="0.12" text-anchor="start" textLength="49.03" lengthAdjust="spacingAndGlyphs" xml:space="preserve">31 Jul 20:00</text>
<rect x="773" y="827" width="1" height="3" fill="#000"/>
<text x="772" y="839" font-size="10.0" fill="#000" stroke="#000" stroke-width="0.12" text-anchor="start" textLength="48.04" lengthAdjust="spacingAndGlyphs" xml:space="preserve">1 Aug 12:00</text>
<rect x="837" y="827" width="1" height="3" fill="#000"/>
<text x="836" y="839" font-size="10.0" fill="#000" stroke="#000" stroke-width="0.12" text-anchor="start" textLength="48.04" lengthAdjust="spacingAndGlyphs" xml:space="preserve">2 Aug 04:00</text>
<rect x="901" y="827" width="1" height="3" fill="#000"/>
<text x="900" y="839" font-size="10.0" fill="#000" stroke="#000" stroke-width="0.12" text-anchor="start" textLength="48.04" lengthAdjust="spacingAndGlyphs" xml:space="preserve">2 Aug 20:00</text>
<rect x="965" y="827" width="1" height="3" fill="#000"/>
<text x="964" y="839" font-size="10.0" fill="#000" stroke="#000" stroke-width="0.12" text-anchor="start" textLength="48.04" lengthAdjust="spacingAndGlyphs" xml:space="preserve">3 Aug 12:00</text>
<rect x="1029" y="827" width="1" height="3" fill="#000"/>
<text x="1028" y="839" font-size="10.0" fill="#000" stroke="#000" stroke-width="0.12" text-anchor="start" textLength="48.04" lengthAdjust="spacingAndGlyphs" xml:space="preserve">4 Aug 04:00</text>
<rect x="1093" y="827" width="1" height="3" fill="#000"/>
<text x="1092" y="839" font-size="10.0" fill="#000" stroke="#000" stroke-width="0.12" text-anchor="start" textLength="48.04" lengthAdjust="spacingAndGlyphs" xml:space="preserve">6 Aug 23:00</text>
<rect x="1157" y="827" width="1" height="3" fill="#000"/>
<text x="1156" y="839" font-size="10.0" fill="#000" stroke="#000" stroke-width="0.12" text-anchor="start" textLength="48.04" lengthAdjust="spacingAndGlyphs" xml:space="preserve">7 Aug 12:00</text>
<rect x="1221" y="827" width="1" height="3" fill="#000"/>
<text x="1220" y="839" font-size="10.0" fill="#000" stroke="#000" stroke-width="0.12" text-anchor="start" textLength="48.04" lengthAdjust="spacingAndGlyphs" xml:space="preserve">8 Aug 04:00</text>
<rect x="1285" y="827" width="1" height="3" fill="#000"/>
<text x="1284" y="839" font-size="10.0" fill="#000" stroke="#000" stroke-width="0.12" text-anchor="start" textLength="48.04" lengthAdjust="spacingAndGlyphs" xml:space="preserve">8 Aug 20:00</text>
<g id="toolbar">
<defs><linearGradient id="gGold" x1="0" y1="0" x2="1" y2="1"><stop offset="0" stop-color="#fcec68"/><stop offset="0.45" stop-color="#f0c41c"/><stop offset="1" stop-color="#d4940c"/></linearGradient><linearGradient id="gPlus" x1="0" y1="0" x2="0" y2="1"><stop offset="0" stop-color="#7dff7d"/><stop offset="1" stop-color="#10b010"/></linearGradient><linearGradient id="gBlue" x1="0" y1="0" x2="0" y2="1"><stop offset="0" stop-color="#58b4ff"/><stop offset="1" stop-color="#0a64d8"/></linearGradient><linearGradient id="gRed" x1="0" y1="0" x2="0" y2="1"><stop offset="0" stop-color="#ec5a3a"/><stop offset="1" stop-color="#d81e10"/></linearGradient><pattern id="chk" width="2" height="2" patternUnits="userSpaceOnUse"><rect width="2" height="2" fill="#f0f0f0"/><rect width="1" height="1" fill="#fff"/><rect x="1" y="1" width="1" height="1" fill="#fff"/></pattern><linearGradient id="gCloud" x1="0" y1="0" x2="0" y2="1"><stop offset="0" stop-color="#ffffff"/><stop offset="1" stop-color="#bcc6de"/></linearGradient><linearGradient id="gSpine" x1="0" y1="0" x2="0.4" y2="1"><stop offset="0" stop-color="#f8e070"/><stop offset="0.5" stop-color="#e0a828"/><stop offset="1" stop-color="#b87c10"/></linearGradient></defs>
<g shape-rendering="crispEdges">
<rect x="5" y="0" width="1" height="19" fill="#a0a0a0"/>
<rect x="241" y="0" width="1" height="21" fill="#a0a0a0"/><rect x="242" y="0" width="1" height="21" fill="#ffffff"/>
<rect x="245" y="1" width="3" height="1" fill="#b4b4b4"/>
<rect x="245" y="3" width="3" height="1" fill="#b4b4b4"/>
<rect x="245" y="5" width="3" height="1" fill="#b4b4b4"/>
<rect x="245" y="7" width="3" height="1" fill="#b4b4b4"/>
<rect x="245" y="9" width="3" height="1" fill="#b4b4b4"/>
<rect x="245" y="11" width="3" height="1" fill="#b4b4b4"/>
<rect x="245" y="13" width="3" height="1" fill="#b4b4b4"/>
<rect x="245" y="15" width="3" height="1" fill="#b4b4b4"/>
<rect x="245" y="17" width="3" height="1" fill="#b4b4b4"/>
<rect x="280" y="0" width="24" height="20" fill="url(#chk)"/>
<rect x="279" y="0" width="1" height="19" fill="#a0a0a0"/>
<rect x="336" y="0" width="1" height="19" fill="#a0a0a0"/>
<rect x="426" y="0" width="1" height="19" fill="#a0a0a0"/>
<rect x="432" y="0" width="24" height="20" fill="url(#chk)"/>
<rect x="431" y="0" width="1" height="19" fill="#a0a0a0"/>
<rect x="460" y="0" width="24" height="20" fill="url(#chk)"/>
<rect x="459" y="0" width="1" height="19" fill="#a0a0a0"/>
<rect x="488" y="0" width="1" height="19" fill="#a0a0a0"/>
<rect x="609" y="0" width="1" height="21" fill="#a0a0a0"/><rect x="610" y="0" width="1" height="21" fill="#ffffff"/>
<rect x="613" y="1" width="3" height="1" fill="#b4b4b4"/>
<rect x="613" y="3" width="3" height="1" fill="#b4b4b4"/>
<rect x="613" y="5" width="3" height="1" fill="#b4b4b4"/>
<rect x="613" y="7" width="3" height="1" fill="#b4b4b4"/>
<rect x="613" y="9" width="3" height="1" fill="#b4b4b4"/>
<rect x="613" y="11" width="3" height="1" fill="#b4b4b4"/>
<rect x="613" y="13" width="3" height="1" fill="#b4b4b4"/>
<rect x="613" y="15" width="3" height="1" fill="#b4b4b4"/>
<rect x="613" y="17" width="3" height="1" fill="#b4b4b4"/>
<rect x="620" y="0" width="24" height="20" fill="url(#chk)"/>
<rect x="619" y="0" width="1" height="19" fill="#a0a0a0"/>
<rect x="676" y="0" width="1" height="19" fill="#a0a0a0"/>
<rect x="915" y="0" width="1" height="21" fill="#a0a0a0"/><rect x="916" y="0" width="1" height="21" fill="#ffffff"/>
<rect x="919" y="1" width="3" height="1" fill="#b4b4b4"/>
<rect x="919" y="3" width="3" height="1" fill="#b4b4b4"/>
<rect x="919" y="5" width="3" height="1" fill="#b4b4b4"/>
<rect x="919" y="7" width="3" height="1" fill="#b4b4b4"/>
<rect x="919" y="9" width="3" height="1" fill="#b4b4b4"/>
<rect x="919" y="11" width="3" height="1" fill="#b4b4b4"/>
<rect x="919" y="13" width="3" height="1" fill="#b4b4b4"/>
<rect x="919" y="15" width="3" height="1" fill="#b4b4b4"/>
<rect x="919" y="17" width="3" height="1" fill="#b4b4b4"/>
<rect x="1066" y="0" width="24" height="20" fill="url(#chk)"/>
<rect x="1065" y="0" width="1" height="19" fill="#a0a0a0"/>
<rect x="1176" y="0" width="1" height="21" fill="#a0a0a0"/><rect x="1177" y="0" width="1" height="21" fill="#ffffff"/>
<rect x="259" y="4" width="1" height="13" fill="#5a5a5a"/><rect x="257" y="14" width="13" height="1" fill="#5a5a5a"/>
<polygon points="259.5,2.6 261.3,5.4 257.7,5.4" fill="#5a5a5a" shape-rendering="geometricPrecision"/><polygon points="271.2,14.5 268.4,12.7 268.4,16.3" fill="#5a5a5a" shape-rendering="geometricPrecision"/>
<rect x="287" y="4" width="1" height="13" fill="#5a5a5a"/><rect x="285" y="14" width="13" height="1" fill="#5a5a5a"/>
<polygon points="287.5,2.6 289.3,5.4 285.7,5.4" fill="#5a5a5a" shape-rendering="geometricPrecision"/><polygon points="299.2,14.5 296.4,12.7 296.4,16.3" fill="#5a5a5a" shape-rendering="geometricPrecision"/>
<rect x="315" y="4" width="1" height="13" fill="#5a5a5a"/><rect x="313" y="14" width="13" height="1" fill="#5a5a5a"/>
<polygon points="315.5,2.6 317.3,5.4 313.7,5.4" fill="#5a5a5a" shape-rendering="geometricPrecision"/><polygon points="327.2,14.5 324.4,12.7 324.4,16.3" fill="#5a5a5a" shape-rendering="geometricPrecision"/>
<rect x="439" y="4" width="1" height="13" fill="#5a5a5a"/><rect x="437" y="14" width="13" height="1" fill="#5a5a5a"/>
<polygon points="439.5,2.6 441.3,5.4 437.7,5.4" fill="#5a5a5a" shape-rendering="geometricPrecision"/><polygon points="451.2,14.5 448.4,12.7 448.4,16.3" fill="#5a5a5a" shape-rendering="geometricPrecision"/>
<rect x="467" y="4" width="1" height="13" fill="#5a5a5a"/><rect x="465" y="14" width="13" height="1" fill="#5a5a5a"/>
<polygon points="467.5,2.6 469.3,5.4 465.7,5.4" fill="#5a5a5a" shape-rendering="geometricPrecision"/><polygon points="479.2,14.5 476.4,12.7 476.4,16.3" fill="#5a5a5a" shape-rendering="geometricPrecision"/>
</g>
<g shape-rendering="geometricPrecision">
<path d="M16.5,1.4 h7 l3.3,3.4 v8.6 q0,1 -1,1 h-9.3 q-1,0 -1,-1 v-11 q0,-1 1,-1 z" fill="#fcfcfc" stroke="#6e6e6e" stroke-width="1"/><path d="M23.5,1.4 v3.4 h3.3" fill="#f4f4f4" stroke="#6e6e6e" stroke-width="1"/>
<rect x="17" y="3.1" width="3" height="1.6" fill="#8a8a8a"/><rect x="17" y="7" width="5" height="1" fill="#8e8e8e"/><rect x="17" y="9" width="4.6" height="1" fill="#8e8e8e"/><rect x="17" y="11" width="2" height="1" fill="#8e8e8e"/>
<path d="M23.5,7.5 h3 v4 h4 v3 h-4 v4 h-3 v-4 h-4 v-3 h4 z" fill="url(#gPlus)" stroke="#0a8a0a" stroke-width="1"/>
<text x="34" y="12.2" font-size="12" fill="#000" font-family='"Liberation Sans", "Noto Sans CJK SC", sans-serif' textLength="35.6" lengthAdjust="spacingAndGlyphs">新订单</text>
<path d="M87.6,2 L97.9,10.2 L90,16.8 L82,10.6 Q85.6,7.4 87.6,2 Z" fill="#e8d088" stroke="#94600a" stroke-width="1" stroke-linejoin="round"/><path d="M82.5,10 L90.6,13.4 L90.1,16.5 L82.3,10.9 Z" fill="url(#gSpine)"/><path d="M87.8,2.6 L96.8,8.6 L90.6,13.4 L83,9.6 Q86.2,7 87.8,2.6 Z" fill="url(#gGold)" stroke="#b07c10" stroke-width="0.5"/><path d="M90.9,14.4 L97,9.5 M90.6,15.6 L97.5,10.2" stroke="#94640c" stroke-width="0.6" fill="none"/><path d="M82.4,11.1 L90,16.7 L97.8,10.4" stroke="#865404" stroke-width="1" fill="none"/>
<polygon points="112.2,2 115.4,4.2 115.4,11 112.2,10" fill="#0a78f0"/><polygon points="112.2,2 113.6,1.2 122.4,1.2 123,2.4 123,10.4 115.4,11 115.4,4.2" fill="#2a9cf8" stroke="#1a70e0" stroke-width="0.5"/><path d="M112.4,2.1 L115.4,4.3 V10.6" fill="none" stroke="#e8f4ff" stroke-width="0.7"/><rect x="117" y="5.2" width="4.8" height="1.5" fill="#d8ecff"/><path d="M112.8,16.5 A2.4,2.4 0 0 1 111.9,11.9 A2.2,2.2 0 0 1 115.2,10.6 A3.1,3.1 0 0 1 120.8,10.4 A2.5,2.5 0 0 1 124.6,12.2 A2.3,2.3 0 0 1 123.6,16.5 Z" fill="url(#gCloud)" stroke="#3c5c9c" stroke-width="1"/>
<path d="M146.1,1.3000000000000007 A7.6,7.6 0 0 1 146.3,16.5 L145.9,8.9 Z" fill="#6cb86c" opacity="0.28"/>
<path d="M145.9,8.9 L153.1,10.5 A7.5,7.5 0 0 1 146.3,16.5 z" fill="#2c9c2c" opacity="0.5"/>
<path d="M146.20000000000002,1.8000000000000007 A7.1,7.1 0 0 0 145.3,16.0" fill="none" stroke="#3c68d4" stroke-width="1.1" opacity="0.6"/><path d="M146.20000000000002,1.8000000000000007 A7.1,7.1 0 0 1 146.9,16.0" fill="none" stroke="#4a8868" stroke-width="1.1" opacity="0.48"/>
<path d="M146.20000000000002,4.300000000000001 A4.6,4.6 0 0 0 145.3,13.5" fill="none" stroke="#3c68d4" stroke-width="1.1" opacity="0.65"/><path d="M146.20000000000002,4.300000000000001 A4.6,4.6 0 0 1 146.9,13.5" fill="none" stroke="#4a8868" stroke-width="1.1" opacity="0.52"/>
<circle cx="145.9" cy="8.9" r="2.1" fill="#2a58d0"/><rect x="146.0" y="8.9" width="1.4" height="7.7" fill="#18a018"/>
<path d="M165.6,8.4 L181,7.4 L178.4,12 L173,16.8 Z" fill="#f8e468" stroke="#d0a010" stroke-width="0.8" stroke-linejoin="round"/><path d="M166.4,9 L172.6,15.8 L176,12 Z" fill="#f4d040" opacity="0.6"/><ellipse cx="173" cy="6" rx="7.8" ry="2.5" fill="#54a8dc" stroke="#2080a8" stroke-width="0.8" transform="rotate(-6 173 6)"/><path d="M169.2,5.6 Q169.4,1.2 172.8,1.2 Q176.2,1.2 176.6,5.2 Q173,6.8 169.2,5.6 Z" fill="#70c0f0" stroke="#2080a8" stroke-width="0.7"/><circle cx="177.5" cy="12.8" r="4.1" fill="url(#gRed)" stroke="#c81808" stroke-width="0.4"/><rect x="176" y="11.3" width="3" height="2.9" fill="#fff"/>
<text x="187" y="12.2" font-size="12" fill="#000" font-family='"Liberation Sans", "Noto Sans CJK SC", sans-serif' textLength="46.2" lengthAdjust="spacingAndGlyphs">自动交易</text>
<path d="M265.7,4.2 v8.6 M265.7,5.6 h2.6 M265.7,11.6 h-2.8" fill="none" stroke="#0a8a0a" stroke-width="1.4"/>
<rect x="293.2" y="1" width="1.1" height="11.8" fill="#0a8a0a"/><rect x="291.4" y="3.2" width="4.8" height="7.6" fill="#38e038" stroke="#0a8a0a" stroke-width="0.9"/>
<path d="M314.2,11.6 C317.5,10.5 318.5,5.8 320.5,6.2 C322.5,6.6 323.5,9.6 326,10" fill="none" stroke="#2a9a2a" stroke-width="1.2"/>
<line x1="355.2" y1="11" x2="360.59999999999997" y2="15.8" stroke="#c89c18" stroke-width="2.8" stroke-linecap="round"/><line x1="355.4" y1="10.6" x2="360.4" y2="15" stroke="#f0d860" stroke-width="1"/><circle cx="351.2" cy="7" r="5.6" fill="#dceefb" stroke="#3a7cd0" stroke-width="1.3"/><rect x="348.2" y="6.2" width="6" height="1.7" fill="#3a88b8"/>
<rect x="350.34999999999997" y="4" width="1.7" height="6" fill="#3a88b8"/>
<line x1="383.2" y1="11" x2="388.59999999999997" y2="15.8" stroke="#c89c18" stroke-width="2.8" stroke-linecap="round"/><line x1="383.4" y1="10.6" x2="388.4" y2="15" stroke="#f0d860" stroke-width="1"/><circle cx="379.2" cy="7" r="5.6" fill="#dceefb" stroke="#3a7cd0" stroke-width="1.3"/><rect x="376.2" y="6.2" width="6" height="1.7" fill="#3a88b8"/>
<rect x="401" y="1" width="8" height="8" rx="0.8" fill="#3aa012"/><rect x="402" y="2" width="0.9" height="0.9" fill="#fff" opacity="0.9"/><path d="M402.3,4 h5.6 v4 h-1 v-0.9 h-3.6 v0.9 h-1 z" fill="#fff"/><rect x="403.2" y="5.2" width="3.8" height="0.8" fill="#8ccc60"/>
<rect x="409" y="1" width="8" height="8" rx="0.8" fill="#1a4cc8"/><rect x="410" y="2" width="0.9" height="0.9" fill="#fff" opacity="0.9"/><path d="M410.3,4 h5.6 v4 h-1 v-0.9 h-3.6 v0.9 h-1 z" fill="#fff"/><rect x="411.2" y="5.2" width="3.8" height="0.8" fill="#7898e8"/>
<rect x="401" y="9" width="8" height="8" rx="0.8" fill="#1a4cc8"/><rect x="402" y="10" width="0.9" height="0.9" fill="#fff" opacity="0.9"/><path d="M402.3,12 h5.6 v4 h-1 v-0.9 h-3.6 v0.9 h-1 z" fill="#fff"/><rect x="403.2" y="13.2" width="3.8" height="0.8" fill="#7898e8"/>
<rect x="409" y="9" width="8" height="8" rx="0.8" fill="#3aa012"/><rect x="410" y="10" width="0.9" height="0.9" fill="#fff" opacity="0.9"/><path d="M410.3,12 h5.6 v4 h-1 v-0.9 h-3.6 v0.9 h-1 z" fill="#fff"/><rect x="411.2" y="13.2" width="3.8" height="0.8" fill="#8ccc60"/>
<polygon points="444.2,5 444.2,12 448.2,8.5" fill="#48d848" stroke="#0a9a0a" stroke-width="0.9"/>
<rect x="473" y="3" width="1.2" height="10" fill="#1a70b0"/><path d="M479,8.5 h-4.2 M477,6.3 l-2.4,2.2 l2.4,2.2" fill="none" stroke="#d84808" stroke-width="1.2"/>
<path d="M499.5,1.4 h7 l3.3,3.4 v8.6 q0,1 -1,1 h-9.3 q-1,0 -1,-1 v-11 q0,-1 1,-1 z" fill="#fcfcfc" stroke="#6e6e6e" stroke-width="1"/><path d="M506.5,1.4 v3.4 h3.3" fill="#f4f4f4" stroke="#6e6e6e" stroke-width="1"/>
<path d="M503,4 q-1.6,0 -1.6,1.6 v1.2 q0,1 -1,1 q1,0 1,1 v1.4 q0,1.6 1.6,1.6" fill="none" stroke="#555" stroke-width="0.9"/>
<path d="M506.7,7.5 h3 v4 h4 v3 h-4 v4 h-3 v-4 h-4 v-3 h4 z" fill="url(#gPlus)" stroke="#0a8a0a" stroke-width="1"/>
<polygon points="519.8,7.7 525.4,7.7 522.5999999999999,10.9" fill="#000"/>
<circle cx="543.8" cy="8.8" r="6.7" fill="#fbfbfb" stroke="url(#gBlue)" stroke-width="2.3"/><circle cx="543.8" cy="8.8" r="7.8" fill="none" stroke="#1454b4" stroke-width="0.5"/><circle cx="543.8" cy="8.8" r="5.4" fill="none" stroke="#b8c4d4" stroke-width="0.6"/><path d="M543.6,4.8 v4.2 h3" fill="none" stroke="#333" stroke-width="1.2"/>
<polygon points="558.7,7.7 564.3000000000001,7.7 561.5,10.9" fill="#000"/>
<rect x="575.5" y="2.5" width="15.6" height="13" fill="#fff" stroke="#3a78c8" stroke-width="1"/><rect x="575" y="2" width="16.6" height="2" fill="#3a78c8"/><rect x="575.5" y="9.4" width="15.6" height="0.9" fill="#88a8d8"/><polyline points="577.5,8 579.5,7.6 581,6.6 583,6.2 584.6,7.2 586.6,7 589,5.8" fill="none" stroke="#b02808" stroke-width="1.1"/><polyline points="577.8,13.6 580,12.8 582,13.6 584,12.8 586.4,11.2 588.8,13.4" fill="none" stroke="#1a8a1a" stroke-width="1.1"/>
<polygon points="597.8,7.7 603.4,7.7 600.5999999999999,10.9" fill="#000"/>
<polygon points="627,2 627,13.2 629.7,10.9 632,15.9 633.9,15 631.6,10.1 635.1,9.7" fill="#4a4a4a"/>
<path d="M659.5,2.2 v6.2 M659.5,10.6 v6.2 M652.2,9.5 h6.2 M660.6,9.5 h6.2" stroke="#5a5a5a" stroke-width="1.2" fill="none"/>
<path d="M693.6,3 v13" stroke="#5a5a5a" stroke-width="1.3"/><path d="M716,9.5 h12" stroke="#5a5a5a" stroke-width="1.3"/><path d="M743.8,15.8 L756.2,3.8" stroke="#5a5a5a" stroke-width="1.2"/>
<path d="M770,10.6 L778.2,3 M771.8,15 L784,3.6 M775,15.8 L784.2,7.2 M772.6,14.6 l1.6,-6 l1.6,3.2 l1.8,-6.4 l1.6,3.2 l2.2,-7.6" stroke="#5a5a5a" stroke-width="1" fill="none"/><text x="780.6" y="18" font-size="7" font-weight="bold" fill="#444">E</text>
<line x1="799" y1="2.5" x2="812" y2="2.5" stroke="#5a5a5a" stroke-width="1" stroke-dasharray="1 1"/>
<line x1="799" y1="5.5" x2="812" y2="5.5" stroke="#5a5a5a" stroke-width="1" stroke-dasharray="1 1"/>
<line x1="799" y1="9.5" x2="812" y2="9.5" stroke="#5a5a5a" stroke-width="1" stroke-dasharray="1 1"/>
<line x1="799" y1="13.5" x2="808" y2="13.5" stroke="#5a5a5a" stroke-width="1" stroke-dasharray="1 1"/>
<text x="808.8" y="18" font-size="7" font-weight="bold" fill="#444">F</text>
<text x="829.4" y="14" font-size="12.6" font-weight="bold" fill="#5a5a5a" textLength="8.2" lengthAdjust="spacingAndGlyphs">A</text>
<path d="M856,3.5 h12 M856,15.5 h12 M856.5,4 v12 M867.5,4 v12" fill="none" stroke="#5a5a5a" stroke-width="1" stroke-dasharray="1 1" shape-rendering="crispEdges"/><text x="857.5" y="14" font-size="11.8" fill="#5a5a5a" stroke="#5a5a5a" stroke-width="0.5" textLength="8.8" lengthAdjust="spacingAndGlyphs">T</text>
<polygon points="886.6,3 890,6.2 886.6,7.8 883.2,6.2" fill="#5a5a5a"/><polygon points="893.4,16 896.8,12.4 893.4,11 890,12.4" fill="#5a5a5a"/><polyline points="885.2,10.2 887.4,12.2 891.4,6.8" fill="none" stroke="#5a5a5a" stroke-width="1.3"/>
<polygon points="903.7,7.7 909.3000000000001,7.7 906.5,10.9" fill="#000"/>
<text x="930.8" y="12.8" font-size="10.4" fill="#3a3a3a" stroke="#3a3a3a" stroke-width="0.2" textLength="12.2" lengthAdjust="spacingAndGlyphs">M1</text>
<text x="958.8" y="12.8" font-size="10.4" fill="#3a3a3a" stroke="#3a3a3a" stroke-width="0.2" textLength="12.2" lengthAdjust="spacingAndGlyphs">M5</text>
<text x="984.6" y="12.8" font-size="10.4" fill="#3a3a3a" stroke="#3a3a3a" stroke-width="0.2" textLength="17.7" lengthAdjust="spacingAndGlyphs">M15</text>
<text x="1012.7" y="12.8" font-size="10.4" fill="#3a3a3a" stroke="#3a3a3a" stroke-width="0.2" textLength="17.7" lengthAdjust="spacingAndGlyphs">M30</text>
<text x="1043.8" y="12.8" font-size="10.4" fill="#3a3a3a" stroke="#3a3a3a" stroke-width="0.2" textLength="11.6" lengthAdjust="spacingAndGlyphs">H1</text>
<text x="1070.8" y="12.8" font-size="10.4" fill="#3a3a3a" stroke="#3a3a3a" stroke-width="0.2" textLength="12.2" lengthAdjust="spacingAndGlyphs">H4</text>
<text x="1099.6" y="12.8" font-size="10.4" fill="#3a3a3a" stroke="#3a3a3a" stroke-width="0.2" textLength="11.6" lengthAdjust="spacingAndGlyphs">D1</text>
<text x="1127.3" y="12.8" font-size="10.4" fill="#3a3a3a" stroke="#3a3a3a" stroke-width="0.2" textLength="13.9" lengthAdjust="spacingAndGlyphs">W1</text>
<text x="1153.8" y="12.8" font-size="10.4" fill="#3a3a3a" stroke="#3a3a3a" stroke-width="0.2" textLength="14.7" lengthAdjust="spacingAndGlyphs">MN</text>
<line x1="1644" y1="9" x2="1639.2" y2="13.8" stroke="#2858c8" stroke-width="2.4" stroke-linecap="round"/><circle cx="1646.5" cy="6.3" r="4" fill="#fafcff" stroke="#2858c8" stroke-width="1.3"/>
<ellipse cx="1668.8" cy="11.4" rx="5.4" ry="4.3" fill="#e4e6f0" stroke="#c4c4c8" stroke-width="0.8"/><polygon points="1665.5,14.6 1666.4,17.4 1669.4,15.2" fill="#e4e6f0" stroke="#c4c4c8" stroke-width="0.6"/><circle cx="1677.5" cy="6.4" r="8" fill="url(#gRed)"/><text x="1677.3" y="10.6" font-size="11.5" fill="#fff" text-anchor="middle">1</text>
</g>
</g>
</svg>
</body></html>
